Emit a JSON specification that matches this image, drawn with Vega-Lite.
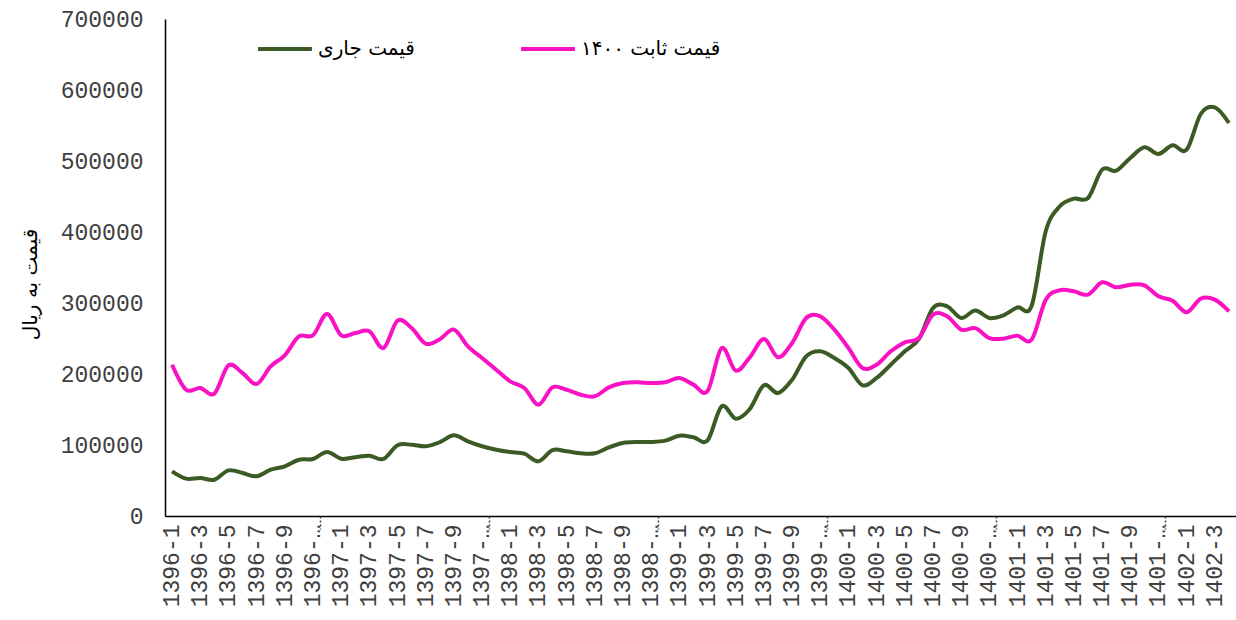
{
  "$schema": "https://vega.github.io/schema/vega-lite/v6.json",
  "autosize": "none",
  "padding": {"left": 165, "top": 19, "right": 0, "bottom": 104},
  "width": 1071,
  "height": 497,
  "config": {"view": {"stroke": null}, "font": "DejaVu Sans"},
  "data": {
    "values": [
      {"m": "1396-1", "current": 62900, "constant": 213100},
      {"m": "1396-2", "current": 52600, "constant": 177900},
      {"m": "1396-3", "current": 53500, "constant": 180300},
      {"m": "1396-4", "current": 51100, "constant": 172300},
      {"m": "1396-5", "current": 64300, "constant": 212200},
      {"m": "1396-6", "current": 60600, "constant": 201400},
      {"m": "1396-7", "current": 55900, "constant": 185900},
      {"m": "1396-8", "current": 65200, "constant": 210800},
      {"m": "1396-9", "current": 70000, "constant": 226300},
      {"m": "1396-10", "current": 79300, "constant": 253000},
      {"m": "1396-11", "current": 80300, "constant": 254500},
      {"m": "1396-12", "current": 90100, "constant": 284500},
      {"m": "1397-1", "current": 80700, "constant": 254500},
      {"m": "1397-2", "current": 82700, "constant": 257700},
      {"m": "1397-3", "current": 84900, "constant": 260100},
      {"m": "1397-4", "current": 80300, "constant": 236600},
      {"m": "1397-5", "current": 99600, "constant": 275100},
      {"m": "1397-6", "current": 100400, "constant": 264800},
      {"m": "1397-7", "current": 98200, "constant": 242700},
      {"m": "1397-8", "current": 104000, "constant": 249000},
      {"m": "1397-9", "current": 113700, "constant": 262500},
      {"m": "1397-10", "current": 105200, "constant": 239000},
      {"m": "1397-11", "current": 98200, "constant": 222500},
      {"m": "1397-12", "current": 93400, "constant": 206100},
      {"m": "1398-1", "current": 90100, "constant": 189700},
      {"m": "1398-2", "current": 87800, "constant": 180300},
      {"m": "1398-3", "current": 77000, "constant": 156800},
      {"m": "1398-4", "current": 92900, "constant": 181200},
      {"m": "1398-5", "current": 91100, "constant": 177900},
      {"m": "1398-6", "current": 88300, "constant": 170800},
      {"m": "1398-7", "current": 88300, "constant": 168600},
      {"m": "1398-8", "current": 96700, "constant": 181200},
      {"m": "1398-9", "current": 102800, "constant": 187300},
      {"m": "1398-10", "current": 104200, "constant": 188300},
      {"m": "1398-11", "current": 104200, "constant": 187300},
      {"m": "1398-12", "current": 106100, "constant": 188300},
      {"m": "1399-1", "current": 113100, "constant": 194400},
      {"m": "1399-2", "current": 110900, "constant": 185000},
      {"m": "1399-3", "current": 106500, "constant": 176000},
      {"m": "1399-4", "current": 154500, "constant": 236600},
      {"m": "1399-5", "current": 137100, "constant": 204700},
      {"m": "1399-6", "current": 150700, "constant": 223500},
      {"m": "1399-7", "current": 184100, "constant": 249300},
      {"m": "1399-8", "current": 173200, "constant": 223500},
      {"m": "1399-9", "current": 192000, "constant": 243700},
      {"m": "1399-10", "current": 224900, "constant": 278900},
      {"m": "1399-11", "current": 232000, "constant": 281300},
      {"m": "1399-12", "current": 222500, "constant": 262500},
      {"m": "1400-1", "current": 208500, "constant": 236600},
      {"m": "1400-2", "current": 184100, "constant": 208500},
      {"m": "1400-3", "current": 194400, "constant": 213100},
      {"m": "1400-4", "current": 213100, "constant": 232000},
      {"m": "1400-5", "current": 232000, "constant": 244600},
      {"m": "1400-6", "current": 249300, "constant": 250700},
      {"m": "1400-7", "current": 293000, "constant": 283600},
      {"m": "1400-8", "current": 295400, "constant": 281300},
      {"m": "1400-9", "current": 278900, "constant": 262500},
      {"m": "1400-10", "current": 289500, "constant": 264500},
      {"m": "1400-11", "current": 278900, "constant": 250700},
      {"m": "1400-12", "current": 282700, "constant": 249700},
      {"m": "1401-1", "current": 293900, "constant": 254000},
      {"m": "1401-2", "current": 296200, "constant": 248400},
      {"m": "1401-3", "current": 401000, "constant": 304700},
      {"m": "1401-4", "current": 436200, "constant": 317900},
      {"m": "1401-5", "current": 446900, "constant": 316500},
      {"m": "1401-6", "current": 447900, "constant": 311800},
      {"m": "1401-7", "current": 487800, "constant": 329200},
      {"m": "1401-8", "current": 486400, "constant": 322100},
      {"m": "1401-9", "current": 504300, "constant": 325800},
      {"m": "1401-10", "current": 519300, "constant": 324900},
      {"m": "1401-11", "current": 509900, "constant": 309400},
      {"m": "1401-12", "current": 522100, "constant": 303200},
      {"m": "1402-1", "current": 516000, "constant": 286900},
      {"m": "1402-2", "current": 566200, "constant": 306200},
      {"m": "1402-3", "current": 575600, "constant": 304700},
      {"m": "1402-4", "current": 553500, "constant": 288300}
    ]
  },
  "transform": [{"fold": ["current", "constant"], "as": ["series", "value"]}],
  "resolve": {"axis": {"x": "independent"}},
  "layer": [
    {
      "mark": {"type": "line", "interpolate": "cardinal", "strokeWidth": 4},
      "encoding": {
        "x": {
          "field": "m",
          "type": "ordinal",
          "sort": null,
          "scale": {"type": "band", "paddingInner": 0, "paddingOuter": 0},
          "axis": {
            "orient": "bottom",
            "title": null,
            "values": ["1396-1","1396-3","1396-5","1396-7","1396-9","1396-11","1397-1","1397-3","1397-5","1397-7","1397-9","1397-11","1398-1","1398-3","1398-5","1398-7","1398-9","1398-11","1399-1","1399-3","1399-5","1399-7","1399-9","1399-11","1400-1","1400-3","1400-5","1400-7","1400-9","1400-11","1401-1","1401-3","1401-5","1401-7","1401-9","1401-11","1402-1","1402-3"],
            "labelExpr": "slice(datum.label, -3) == '-11' ? slice(datum.label, 0, 5) + '…' : datum.label",
            "labelAngle": -90,
            "labelFont": "Liberation Mono",
            "labelFontSize": 23,
            "labelColor": "#404040",
            "labelPadding": 8,
            "ticks": false,
            "domainColor": "#000000",
            "domainWidth": 1.5,
            "grid": false
          }
        },
        "y": {
          "field": "value",
          "type": "quantitative",
          "scale": {"domain": [0, 700000]},
          "axis": {
            "title": "قیمت به ریال",
            "titleFontSize": 20,
            "titleFontWeight": "normal",
            "titleColor": "#000000",
            "titlePadding": 20,
            "titleY": 265,
            "values": [0, 100000, 200000, 300000, 400000, 500000, 600000, 700000],
            "format": "d",
            "labelFont": "Liberation Mono",
            "labelFontSize": 23,
            "labelColor": "#404040",
            "labelPadding": 22,
            "ticks": false,
            "grid": false,
            "domainColor": "#000000",
            "domainWidth": 1.5
          }
        },
        "color": {
          "field": "series",
          "type": "nominal",
          "scale": {"domain": ["current", "constant"], "range": ["#3B5A24", "#F812C4"]},
          "legend": {
            "title": null,
            "orient": "none",
            "legendX": 91,
            "legendY": 1,
            "direction": "horizontal",
            "columns": 2,
            "columnPadding": 98,
            "symbolType": "stroke",
            "symbolStrokeWidth": 4,
            "symbolSize": 2900,
            "labelFontSize": 20,
            "labelColor": "#000000",
            "labelLimit": 300,
            "labelExpr": "datum.label == 'current' ? 'قیمت جاری' : 'قیمت ثابت ۱۴۰۰'"
          }
        }
      }
    },
    {
      "mark": {"type": "line", "opacity": 0},
      "encoding": {
        "x": {
          "field": "m",
          "type": "ordinal",
          "sort": null,
          "axis": {
            "orient": "bottom",
            "title": null,
            "values": ["1396-11","1397-11","1398-11","1399-11","1400-11","1401-11"],
            "bandPosition": 1,
            "labels": false,
            "domain": false,
            "ticks": true,
            "tickSize": 13,
            "tickDash": [2, 2],
            "tickWidth": 1.5,
            "tickColor": "#404040",
            "grid": false
          }
        },
        "y": {"field": "value", "type": "quantitative"},
        "detail": {"field": "series"}
      }
    }
  ]
}
